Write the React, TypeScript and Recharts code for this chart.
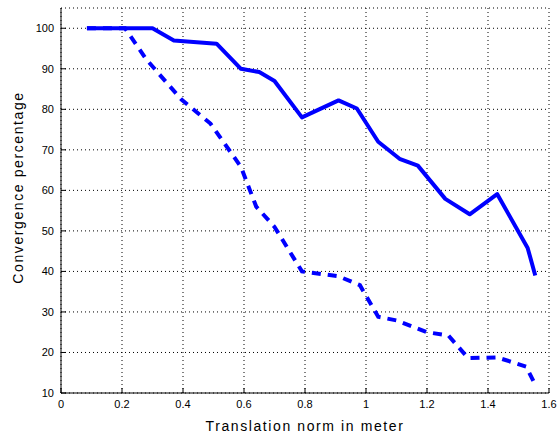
import { LineChart, Line, XAxis, YAxis, CartesianGrid } from 'recharts'

const xTicks = [0, 0.2, 0.4, 0.6, 0.8, 1, 1.2, 1.4, 1.6]
const yTicks = [10, 20, 30, 40, 50, 60, 70, 80, 90, 100]

// solid curve
const solidX = [0.085, 0.3, 0.37, 0.51, 0.59, 0.65, 0.7, 0.79, 0.91, 0.97, 1.04, 1.11, 1.17, 1.26, 1.34, 1.43, 1.53, 1.555]
const solidY = [100, 100, 97, 96.2, 90, 89.2, 87, 78, 82.2, 80.2, 72, 67.8, 66.1, 57.9, 54.1, 59.1, 45.8, 39]

// dashed curve
const dashedX = [0.085, 0.21, 0.28, 0.395, 0.49, 0.59, 0.64, 0.7, 0.79, 0.91, 0.98, 1.04, 1.1, 1.2, 1.27, 1.335, 1.43, 1.525, 1.552]
const dashedY = [100, 100, 92.3, 82.4, 76.5, 65.8, 56, 51, 40, 38.8, 36.6, 28.8, 27.9, 25, 24.2, 18.6, 18.8, 16.5, 12.5]

const solidData = solidX.map((x, i) => ({ x, y: solidY[i] }))
const dashedData = dashedX.map((x, i) => ({ x, y: dashedY[i] }))

const font = '"Liberation Sans", Arial, Helvetica, sans-serif'

const LeftTick = (props: any) => {
  const { x, y, payload } = props
  return (
    <g>
      <line x1={x + 7} x2={x + 12} y1={y} y2={y} stroke="#000" />
      <text x={x} y={y} dy="0.36em" textAnchor="end" fontSize={11} fontFamily={font} fill="#000">
        {payload.value}
      </text>
    </g>
  )
}

const BottomTick = (props: any) => {
  const { x, y, payload } = props
  return (
    <g>
      <line x1={x} x2={x} y1={y - 6} y2={y - 11} stroke="#000" />
      <text x={x} y={y + 1} dy="0.71em" textAnchor="middle" fontSize={11} fontFamily={font} fill="#000">
        {payload.value}
      </text>
    </g>
  )
}

const TopTick = (props: any) => {
  const { x, y } = props
  return <line x1={x} x2={x} y1={y} y2={y + 5} stroke="#333" />
}

const RightTick = (props: any) => {
  const { x, y } = props
  return <line x1={x} x2={x - 5} y1={y} y2={y} stroke="#333" />
}

const XLabel = (props: any) => {
  const { x, y, width } = props.viewBox
  return (
    <text x={x + width / 2} y={y + 38} textAnchor="middle" fontSize={14} letterSpacing={1.6} fontFamily={font} fill="#000">
      Translation norm in meter
    </text>
  )
}

const YLabel = (props: any) => {
  const { y, height } = props.viewBox
  const cy = y + height / 2 - 13
  return (
    <text x={18} y={cy} dy="0.36em" transform={`rotate(-90 18 ${cy})`} textAnchor="middle" fontSize={14} letterSpacing={1.6} fontFamily={font} fill="#000">
      Convergence percentage
    </text>
  )
}

const App = () => {
  return (
    <div style={{ position: 'absolute', left: 0, top: 0, background: '#fff' }}>
      <LineChart width={559} height={437} margin={{ top: 8, right: 10, bottom: 0, left: 0 }}>
        <CartesianGrid stroke="#000" strokeDasharray="1 3" />
        <XAxis
          dataKey="x"
          type="number"
          domain={[0, 1.6]}
          ticks={xTicks}
          allowDataOverflow
          height={44}
          tickSize={0}
          tickMargin={6}
          tickLine={false}
          tick={<BottomTick />}
          axisLine={{ stroke: '#000' }}
          label={<XLabel />}
        />
        <XAxis
          xAxisId="top"
          orientation="top"
          type="number"
          domain={[0, 1.6]}
          ticks={xTicks}
          allowDataOverflow
          height={0}
          tickSize={0}
          tickMargin={0}
          tickLine={false}
          tick={<TopTick />}
          axisLine={{ stroke: '#808080' }}
        />
        <YAxis
          type="number"
          domain={[10, 105]}
          ticks={yTicks}
          allowDataOverflow
          width={61}
          tickSize={0}
          tickMargin={7}
          tickLine={false}
          tick={<LeftTick />}
          axisLine={{ stroke: '#000' }}
          label={<YLabel />}
        />
        <YAxis
          yAxisId="right"
          orientation="right"
          type="number"
          domain={[10, 105]}
          ticks={yTicks}
          allowDataOverflow
          width={0}
          tickSize={0}
          tickMargin={0}
          tickLine={false}
          tick={<RightTick />}
          axisLine={{ stroke: '#808080' }}
        />
        <Line
          data={dashedData}
          dataKey="y"
          type="linear"
          stroke="#0000ff"
          strokeWidth={4}
          strokeDasharray="9 7"
          dot={false}
          isAnimationActive={false}
        />
        <Line
          data={solidData}
          dataKey="y"
          type="linear"
          stroke="#0000ff"
          strokeWidth={4}
          strokeLinejoin="round"
          dot={false}
          isAnimationActive={false}
        />
      </LineChart>
    </div>
  )
}

export default App
